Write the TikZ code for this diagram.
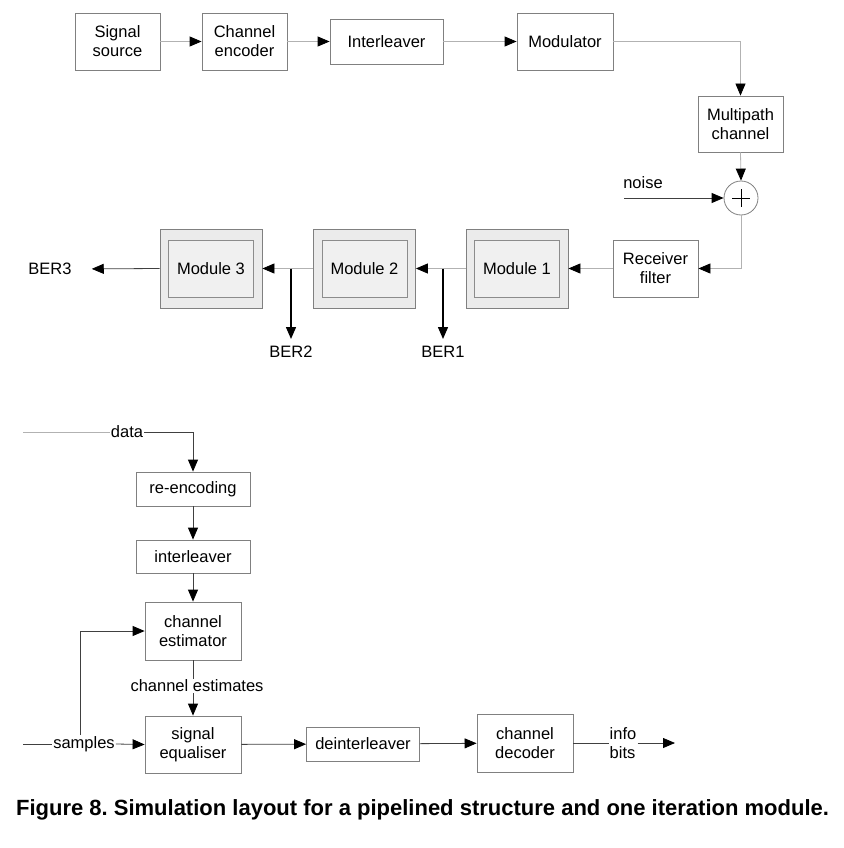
\documentclass[tikz,border=0pt]{standalone}
\usepackage{fontspec}
\setmainfont{Liberation Sans}
\usetikzlibrary{arrows.meta}

\tikzset{
  blk/.style={draw=gray, fill=white, align=center, inner sep=2pt, line width=0.8pt},
  modout/.style={draw=gray, fill=gray!16, minimum width=102pt, minimum height=79pt, line width=0.8pt},
  modin/.style={draw=gray!90, fill=gray!12, minimum width=85pt, minimum height=57pt, line width=0.8pt},
  lbl/.style={inner sep=1pt, align=left},
  wire/.style={draw=gray!60, line width=0.8pt, -{Triangle[length=12pt,width=10pt,color=black]}},
  dwire/.style={draw=black!75, line width=0.8pt, -{Triangle[length=12pt,width=10pt,color=black]}},
  ber/.style={draw=black, line width=1.4pt, -{Triangle[length=12pt,width=10pt]}}
}

\begin{document}
\begin{tikzpicture}[x=1pt,y=-1pt,font=\fontsize{16.5}{19}\selectfont]
\useasboundingbox (0,0) rectangle (843,848);

\node[blk, minimum width=85pt, minimum height=57pt] (src) at (117.5,41.5) {Signal\\source};
\node[blk, minimum width=85pt, minimum height=57pt] (enc) at (244.5,41.5) {Channel\\encoder};
\node[blk, minimum width=113pt, minimum height=45pt] (il) at (386.5,41.5) {Interleaver};
\node[blk, minimum width=96pt, minimum height=57pt] (mod) at (565,41.5) {Modulator};
\node[blk, minimum width=85pt, minimum height=56pt] (mp) at (740.5,124) {Multipath\\channel};
\node[draw=gray, fill=white, circle, minimum size=34pt, inner sep=0pt, line width=0.8pt] (sum) at (741,198) {};
\draw[line width=0.8pt] ([yshift=9pt]sum.center) -- ([yshift=-9pt]sum.center);
\draw[line width=0.8pt] ([xshift=-9pt]sum.center) -- ([xshift=9pt]sum.center);
\node[lbl] (noise) at (643,183) {noise};
\coordinate (nz) at (624,198);
\node[blk, minimum width=85pt, minimum height=57pt] (rf) at (655.5,268.5) {Receiver\\filter};

\node[modout] (m1) at (517,268.5) {};
\node[modin] (m1i) at (517,268.5) {Module 1};
\node[modout] (m2) at (364.5,268.5) {};
\node[modin] (m2i) at (364.5,268.5) {Module 2};
\node[modout] (m3) at (211,268.5) {};
\node[modin] (m3i) at (211,268.5) {Module 3};

\node[lbl] (ber3) at (50,269) {BER3};
\node[lbl, anchor=north] (ber2) at (291,345) {BER2};
\node[lbl, anchor=north] (ber1) at (443,345) {BER1};
\coordinate (b2) at (291,268.5);
\coordinate (b1) at (443,268.5);

\draw[wire] (src) -- (enc);
\draw[wire] (enc) -- (il);
\draw[wire] (il) -- (mod);
\draw[wire] (mod.east) -| (mp.north);
\draw[wire] (mp.south) -- (sum.north);
\draw[dwire] (nz) -- (sum.west);
\draw[wire] (sum.south) |- (rf.east);
\draw[wire] (rf.west) -- (m1.east);
\draw[wire] (m1.west) -- (m2.east);
\draw[wire] (m2.west) -- (m3.east);
\draw[dwire, shorten >=19pt] (m3.west) -- (ber3.east);
\draw[ber, shorten >=6pt] (b2) -- (ber2.north);
\draw[ber, shorten >=6pt] (b1) -- (ber1.north);

\node[blk, minimum width=114pt, minimum height=34pt] (re) at (193,489) {re-encoding};
\node[blk, minimum width=114pt, minimum height=33pt] (int) at (193,556.5) {interleaver};
\node[blk, minimum width=96pt, minimum height=58pt] (est) at (193,631) {channel\\estimator};
\node[blk, minimum width=96pt, minimum height=57pt] (eq) at (193,744.5) {signal\\equaliser};
\node[blk, minimum width=113pt, minimum height=34pt] (dei) at (363,744) {deinterleaver};
\node[blk, minimum width=96pt, minimum height=58pt] (dec) at (525,743) {channel\\decoder};

\coordinate (din) at (23,432);
\node[lbl] (data) at (127,432) {data};
\coordinate (sin) at (23,744);
\node[lbl] (samp) at (84,744) {samples};
\node[lbl] (ce) at (197,686) {channel estimates};
\node[lbl] (ib) at (623,743) {info\\bits};
\coordinate (iout) at (675,743);

\draw[draw=gray!60, line width=0.8pt] (din) -- (data.west);
\draw[dwire] (data.east) -| (re.north);
\draw[dwire] (re) -- (int);
\draw[dwire] (int) -- (est);
\draw[draw=black!75, line width=0.8pt] (est.south) -- (est.south |- ce.north);
\draw[dwire] (eq.north |- ce.south) -- (eq.north);
\draw[draw=black!75, line width=0.8pt] (sin) -- (samp.west);
\draw[dwire] (samp.east) -- (eq.west);
\draw[dwire] ([xshift=-4pt]samp.north) |- (est.west);
\draw[dwire] (eq) -- (dei);
\draw[dwire] (dei) -- (dec);
\draw[draw=black!75, line width=0.8pt] (dec.east) -- (ib.west);
\draw[dwire] (ib.east) -- (iout);

\node (cap) at (422.5,810) {\fontsize{22}{24}\selectfont\bfseries\frenchspacing Figure 8. Simulation layout for a pipelined structure and one iteration module.};
\end{tikzpicture}
\end{document}
